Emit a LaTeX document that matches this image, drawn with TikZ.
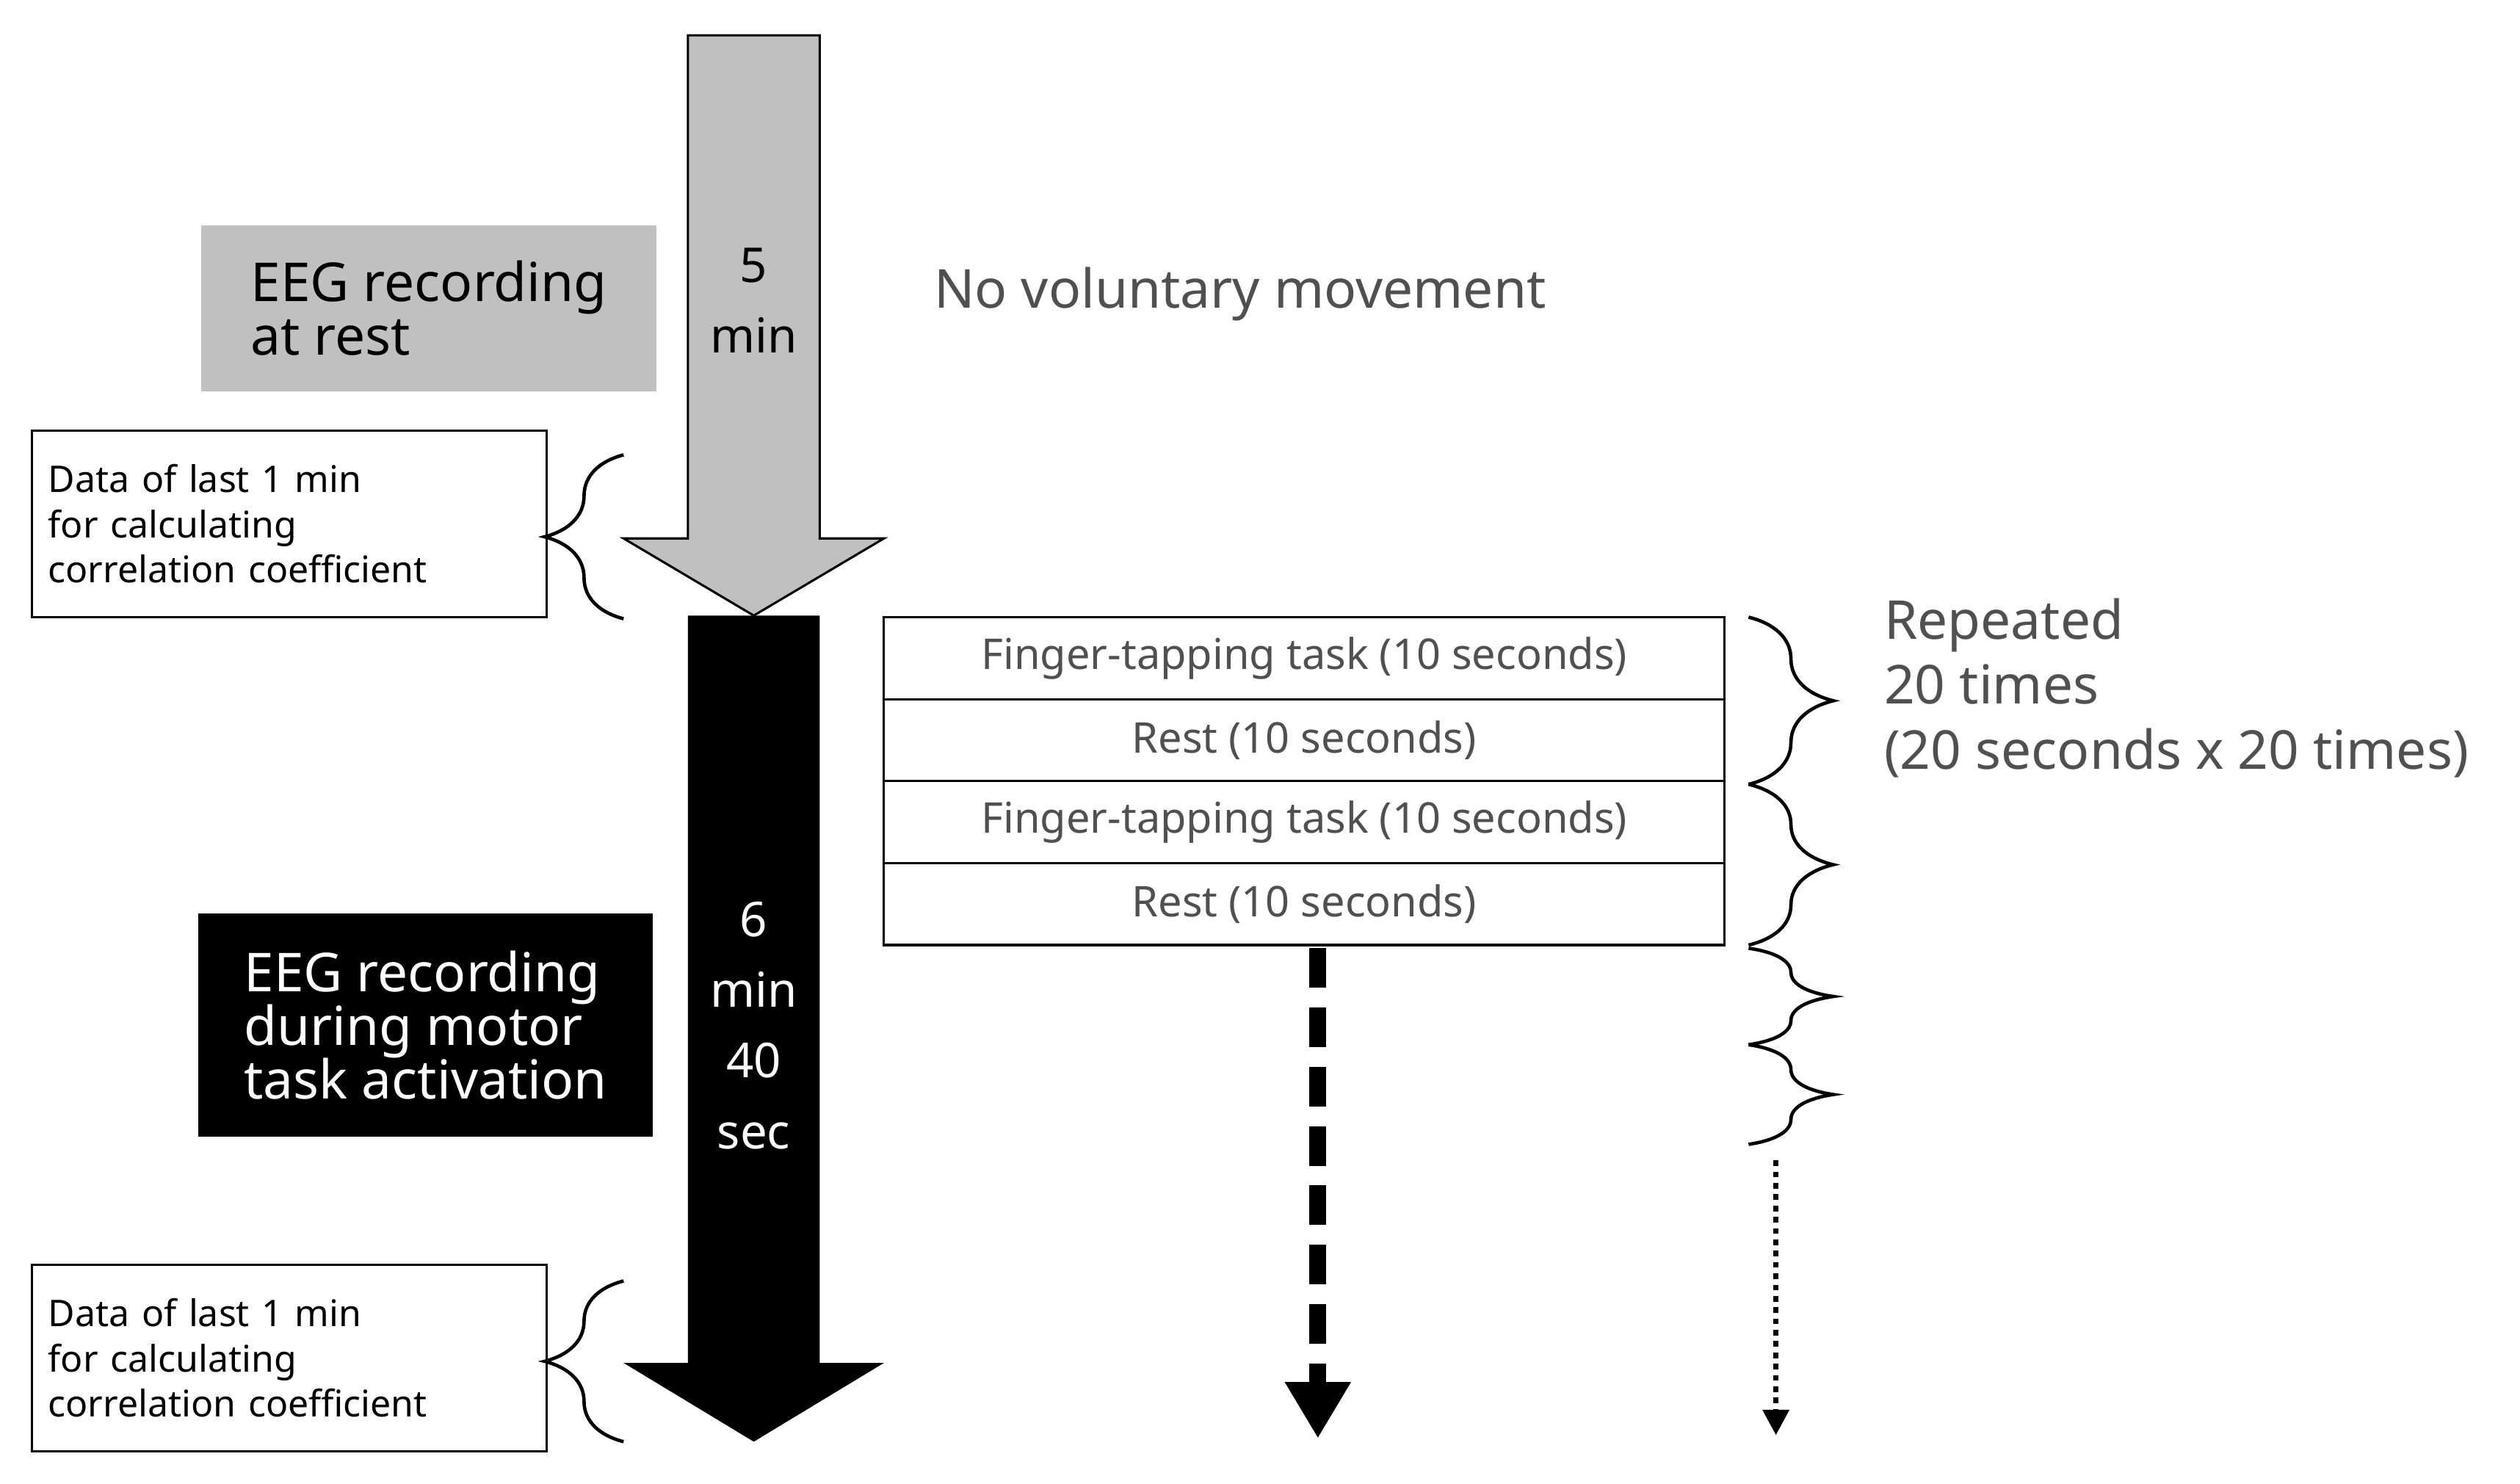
\documentclass[tikz,border=0pt]{standalone}
\usepackage{fontspec}
\setmainfont{Noto Sans}
\usetikzlibrary{decorations.pathreplacing, arrows.meta}
\definecolor{txtgray}{HTML}{505050}
\definecolor{boxgray}{HTML}{C0C0C0}
\tikzset{
  lbl/.style={font=\fontsize{19}{23}\selectfont\bfseries, align=left, anchor=north west, inner sep=8pt},
  data/.style={draw=black, thick, font=\fontsize{13}{16}\selectfont\bfseries, align=left, minimum width=6.4cm, minimum height=2.32cm, text width=6cm, inner sep=4pt},
  task/.style={draw=black, thick, text=txtgray, font=\fontsize{15}{18}\selectfont, minimum width=10.46cm, minimum height=1.02cm, inner sep=0pt},
  brc/.style={decorate, decoration={brace, amplitude=#1}, very thick},
  note/.style={text=txtgray, font=\fontsize{19}{23}\selectfont, align=left}
}
\begin{document}
\begin{tikzpicture}[x=0.02cm, y=-0.02cm]
  \useasboundingbox (0,0) rectangle (1568,923);
  %big arrows
  \draw[fill=boxgray, thick] (428,22) -- (510,22) -- (510,335) -- (550,335) -- (469,383) -- (388,335) -- (428,335) -- cycle;
  \fill (428,383) -- (510,383) -- (510,848) -- (550,848) -- (469,897) -- (388,848) -- (428,848) -- cycle;
  \node[font=\fontsize{17}{25}\selectfont\bfseries, align=center] (five) at (469,187) {5\\min};
  \node[font=\fontsize{17}{25}\selectfont\bfseries, text=white, align=center] (six) at (469,638) {6\\min\\40\\sec};

  %labels on the left
  \node[lbl, fill=boxgray, minimum width=5.66cm, minimum height=2.06cm] (rest) at (125,140) {EEG recording\\[-4pt]at rest};
  \node[lbl, fill=black, text=white, minimum width=5.66cm, minimum height=2.78cm] (motor) at (123,568) {EEG recording\\[-4pt]during motor\\[-4pt]task activation};
  \node[data] (data1) at (180,326) {Data of last 1 min\\for calculating\\correlation coefficient};
  \node[data] (data2) at (180,845) {Data of last 1 min\\for calculating\\correlation coefficient};
  \draw[brc=28pt] (388,385) -- (388,283);
  \draw[brc=28pt] (388,897) -- (388,797);

  \node[note, anchor=west] (novol) at (575,183) {No voluntary movement};

  %task blocks
  \node[task] (t1) at (811.5,409.5) {Finger-tapping task (10 seconds)};
  \node[task] (t2) at (811.5,460.5) {Rest (10 seconds)};
  \node[task] (t3) at (811.5,511.5) {Finger-tapping task (10 seconds)};
  \node[task] (t4) at (811.5,562.5) {Rest (10 seconds)};

  \draw[brc=30pt] (1088,384) -- (1088,488);
  \draw[brc=30pt] (1088,488) -- (1088,588);
  \draw[brc=30pt] (1088,590) -- (1088,650);
  \draw[brc=30pt] (1088,650) -- (1088,712);
  \node[note, anchor=north west, inner sep=0pt] (rep) at (1172,372) {Repeated\\20 times\\(20 seconds x 20 times)};

  %continuation arrows
  \coordinate (d1) at (820,590);
  \coordinate (d2) at (820,895);
  \coordinate (e1) at (1105,722);
  \coordinate (e2) at (1105,893);
  \draw[line width=6pt, dash pattern=on 14pt off 7pt, -{Triangle[length=20pt, width=22pt]}] (d1) -- (d2);
  \draw[line width=2pt, dotted, -{Triangle[length=9pt, width=9pt]}] (e1) -- (e2);
\end{tikzpicture}
\end{document}
